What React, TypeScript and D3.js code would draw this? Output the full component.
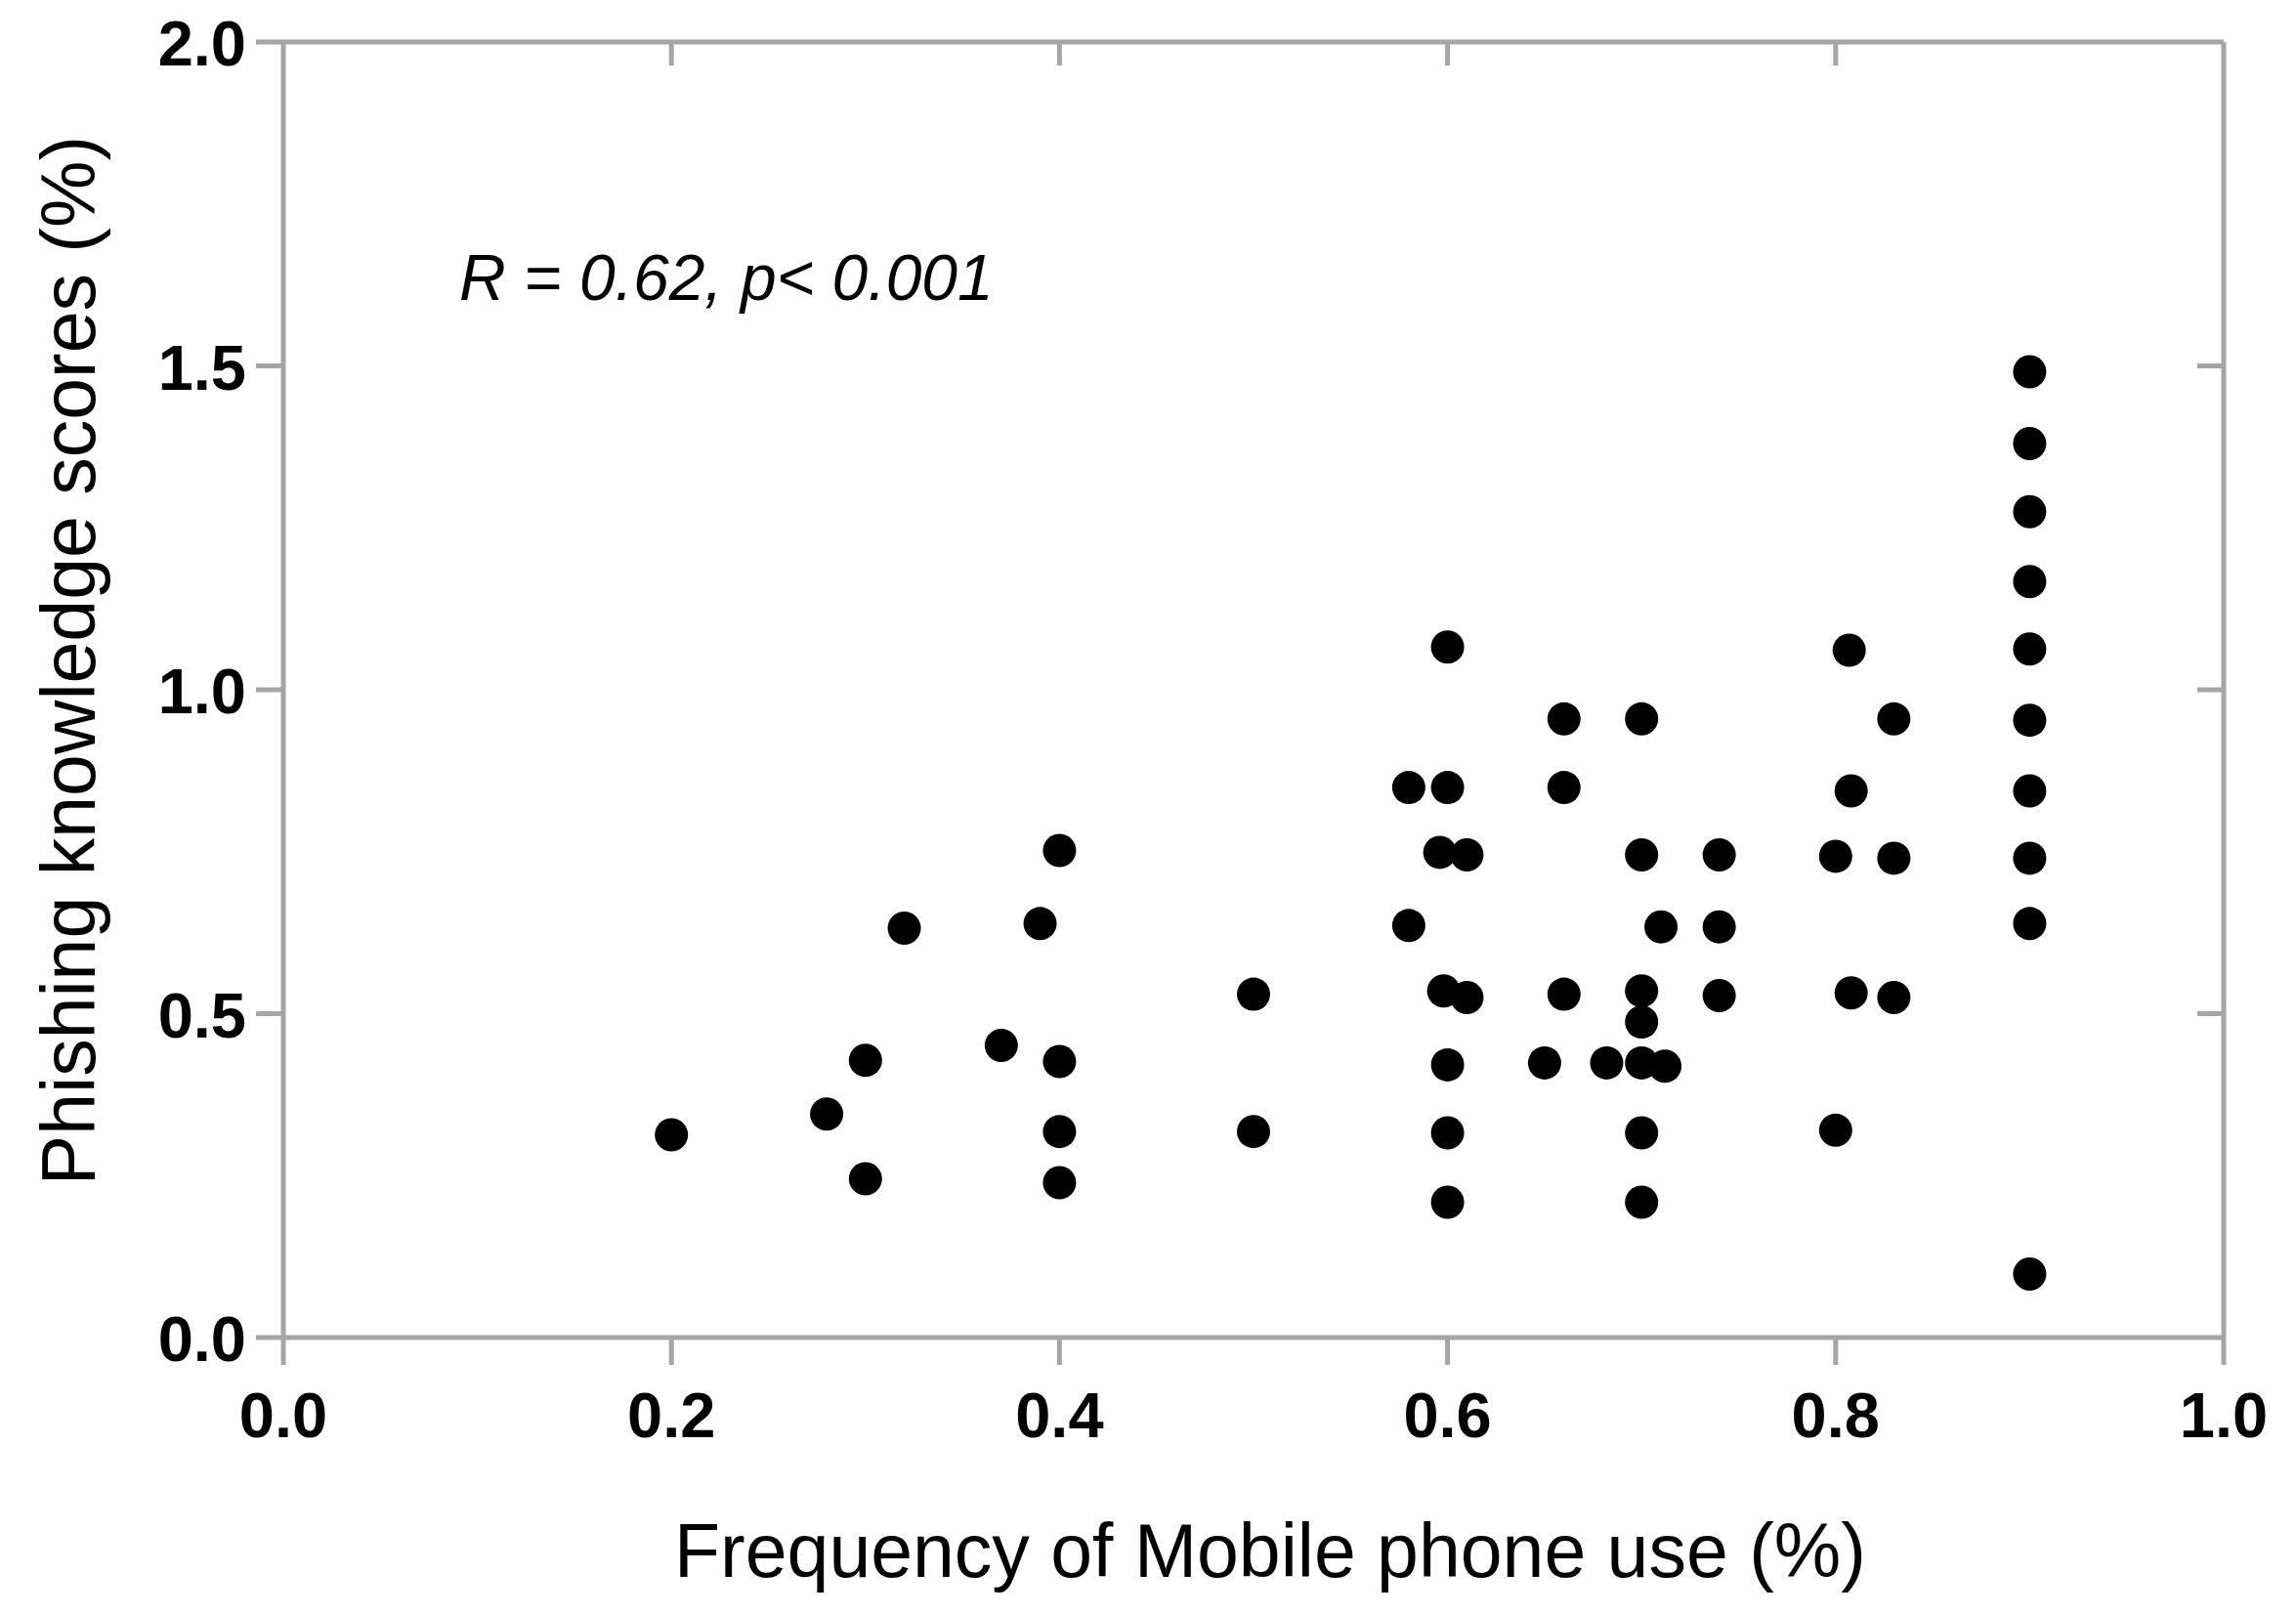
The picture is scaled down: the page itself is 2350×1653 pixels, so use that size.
import React from "react";
import * as d3 from "d3";

const xValues: number[] = [
  0.20, 0.28, 0.30, 0.30, 0.32, 0.37, 0.39, 0.40, 0.40, 0.40, 0.40,
  0.50, 0.50,
  0.58, 0.58, 0.60, 0.60, 0.596, 0.61, 0.598, 0.61, 0.60, 0.60, 0.60,
  0.65, 0.66, 0.66, 0.66, 0.682,
  0.70, 0.70, 0.71, 0.70, 0.70, 0.70, 0.712, 0.70, 0.70,
  0.74, 0.74, 0.74,
  0.80, 0.80, 0.807, 0.808, 0.808, 0.83, 0.83, 0.83,
  0.90, 0.90, 0.90, 0.90, 0.90, 0.90, 0.90, 0.90, 0.90, 0.90,
];
const yValues: number[] = [
  0.313, 0.345, 0.245, 0.428, 0.632, 0.451, 0.639, 0.752, 0.426, 0.318, 0.239,
  0.530, 0.318,
  0.636, 0.849, 1.066, 0.849, 0.749, 0.745, 0.535, 0.525, 0.421, 0.316, 0.209,
  0.424, 0.955, 0.849, 0.530, 0.424,
  0.955, 0.745, 0.634, 0.535, 0.487, 0.424, 0.419, 0.316, 0.209,
  0.745, 0.634, 0.528,
  0.743, 0.320, 1.061, 0.844, 0.532, 0.955, 0.740, 0.525,
  1.491, 1.380, 1.275, 1.167, 1.063, 0.953, 0.844, 0.740, 0.639, 0.098,
];
const xTicks: number[] = [0, 0.2, 0.4, 0.6, 0.8, 1.0];
const yTicks: number[] = [0, 0.5, 1.0, 1.5, 2.0];
const xTitle = "Frequency of Mobile phone use (%)";
const yTitle = "Phishing knowledge scores (%)";
const annotation = "R = 0.62, p< 0.001";

export default function App() {
  const W = 2350, H = 1653;
  const left = 290, right = 2276, top = 43, bottom = 1369;
  const x = d3.scaleLinear().domain([0, 1]).range([left, right]);
  const y = d3.scaleLinear().domain([0, 2]).range([bottom, top]);
  const axisColor = "#a6a6a6";
  const sw = 5;
  const tl = 28;
  const font = "'Liberation Sans', Arial, Helvetica, sans-serif";
  const pts = xValues.map((v, i) => [v, yValues[i]]);
  return (
    <svg width={W} height={H} style={{ position: "absolute", left: 0, top: 0, display: "block", background: "#fff" }}>
      <rect x={0} y={0} width={W} height={H} fill="#fff" />
      <g stroke={axisColor} strokeWidth={sw} fill="none" strokeLinecap="butt">
        <line x1={x(0)} y1={y(2)} x2={x(0)} y2={y(0)} />
        <line x1={x(0)} y1={y(0)} x2={x(1)} y2={y(0)} />
        <line x1={x(0)} y1={y(2)} x2={x(1)} y2={y(2)} />
        <line x1={x(1)} y1={y(2)} x2={x(1)} y2={y(0)} />
        {xTicks.map((t) => (
          <line key={"xb" + t} x1={x(t)} x2={x(t)} y1={y(0)} y2={y(0) + tl} />
        ))}
        {xTicks.filter((t) => t > 0 && t < 1).map((t) => (
          <line key={"xt" + t} x1={x(t)} x2={x(t)} y1={y(2)} y2={y(2) + tl - 4} />
        ))}
        {yTicks.map((t) => (
          <line key={"yl" + t} x1={x(0) - tl} x2={x(0)} y1={y(t)} y2={y(t)} />
        ))}
        {yTicks.filter((t) => t > 0 && t < 2).map((t) => (
          <line key={"yr" + t} x1={x(1) - tl + 1} x2={x(1)} y1={y(t)} y2={y(t)} />
        ))}
      </g>
      <g fontFamily={font} fontWeight="bold" fontSize={65} fill="#000">
        {xTicks.map((t) => (
          <text key={"xl" + t} x={x(t)} y={y(0) + 102} textAnchor="middle">
            {d3.format(".1f")(t)}
          </text>
        ))}
        {yTicks.map((t) => (
          <text key={"ylab" + t} x={252} y={y(t) + 24} textAnchor="end">
            {d3.format(".1f")(t)}
          </text>
        ))}
      </g>
      <text x={1300} y={1614} textAnchor="middle" fontFamily={font} fontSize={77} fill="#000">
        {xTitle}
      </text>
      <text
        transform={`translate(97, 676) rotate(-90)`}
        textAnchor="middle"
        fontFamily={font}
        fontSize={77}
        fill="#000"
      >
        {yTitle}
      </text>
      <text x={470} y={307} fontFamily={font} fontStyle="italic" fontSize={66} fill="#000">
        {annotation}
      </text>
      <g fill="#000">
        {pts.map((p, i) => (
          <circle key={i} cx={x(p[0])} cy={y(p[1])} r={17} />
        ))}
      </g>
    </svg>
  );
}
